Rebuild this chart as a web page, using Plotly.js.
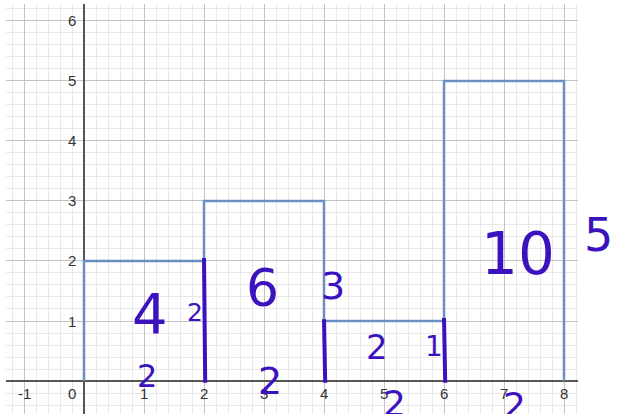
<!DOCTYPE html>
<html>
<head>
<meta charset="utf-8">
<script src="https://cdn.plot.ly/plotly-3.0.1.min.js"></script>
<style>
  html, body { margin: 0; padding: 0; background: #fff; }
  #myPlot { width: 618px; height: 414px; }
</style>
</head>
<body>
<div id="myPlot"></div>
<script>
// step outline: bin edges and heights
const edges = [0, 2, 4, 6, 8];
const heights = [2, 3, 1, 5];

// tick labels
const xTicks = [-1, 0, 1, 2, 3, 4, 5, 6, 7, 8];
const yTicks = [1, 2, 3, 4, 5, 6];

// hand-drawn dividers (x position, top y)
const dividerX = [2, 4, 6];
const dividerTop = [2.05, 1.03, 1.05];

// handwritten notes
const noteText = ['4', '2', '6', '3', '2', '1', '10', '5', '2', '2', '2', '2'];
const noteX = [1.1, 1.85, 2.97, 4.15, 4.88, 5.83, 7.23, 8.57, 1.05, 3.1, 5.18, 7.18];
const noteY = [1.12, 1.15, 1.55, 1.58, 0.57, 0.58, 2.12, 2.43, 0.08, 0.0, -0.37, -0.4];
const noteSize = [56, 25, 52, 38, 34, 28, 58, 46, 32, 38, 36, 36];

const purple = '#3c12bf';
const xRange = [-1.3, 8.233];
const yRange = [-0.55, 6.283];

// build the outline (hv steps)
const outX = [edges[0]];
const outY = [0];
for (let i = 0; i < heights.length; i++) {
    outX.push(edges[i]);
    outY.push(heights[i]);
}
outX.push(edges[edges.length - 1], edges[edges.length - 1]);
outY.push(heights[heights.length - 1], 0);

const data = [{
    x: outX,
    y: outY,
    mode: 'lines',
    line: {shape: 'hv', color: '#6b8fc1', width: 2.5},
    type: 'scatter',
    hoverinfo: 'skip'
}];

// purple divider strokes
dividerX.forEach(function (x, i) {
    data.push({
        x: [x, x + 0.02],
        y: [dividerTop[i], -0.03],
        mode: 'lines',
        line: {color: purple, width: 4},
        type: 'scatter',
        hoverinfo: 'skip'
    });
});

const annotations = [];
xTicks.forEach(function (t) {
    annotations.push({
        x: t === 0 ? -0.2 : t, y: -0.2, text: String(t), showarrow: false,
        xanchor: 'center', yanchor: 'middle',
        font: {family: 'Liberation Sans, Arial', size: 15, color: '#333'}
    });
});
yTicks.forEach(function (t) {
    annotations.push({
        x: -0.1, y: t, text: String(t), showarrow: false,
        xanchor: 'right', yanchor: 'middle',
        font: {family: 'Liberation Sans, Arial', size: 15, color: '#333'}
    });
});
// notes use paper x so the one right of the grid still shows
noteText.forEach(function (t, i) {
    annotations.push({
        xref: 'paper',
        x: (noteX[i] - xRange[0]) / (xRange[1] - xRange[0]),
        y: noteY[i], text: t, showarrow: false,
        xanchor: 'center', yanchor: 'middle',
        font: {family: 'DejaVu Sans', size: noteSize[i], color: purple}
    });
});

const layout = {
    width: 618,
    height: 414,
    margin: {l: 6, r: 40, t: 4, b: 0, pad: 0},
    showlegend: false,
    xaxis: {
        range: xRange,
        dtick: 1, tick0: 0,
        showticklabels: false,
        ticks: '',
        gridcolor: '#c4c4c4', gridwidth: 1,
        minor: {dtick: 0.2, showgrid: true, gridcolor: '#e8e8e8', gridwidth: 1},
        zeroline: true, zerolinecolor: '#555', zerolinewidth: 1.6,
        fixedrange: true
    },
    yaxis: {
        range: yRange,
        dtick: 1, tick0: 0,
        showticklabels: false,
        ticks: '',
        gridcolor: '#c4c4c4', gridwidth: 1,
        minor: {dtick: 0.2, showgrid: true, gridcolor: '#e8e8e8', gridwidth: 1},
        zeroline: true, zerolinecolor: '#555', zerolinewidth: 1.6,
        fixedrange: true
    },
    annotations: annotations,
    paper_bgcolor: '#fff',
    plot_bgcolor: '#fff'
};

Plotly.newPlot('myPlot', data, layout, {displayModeBar: false, staticPlot: true});
</script>
</body>
</html>
